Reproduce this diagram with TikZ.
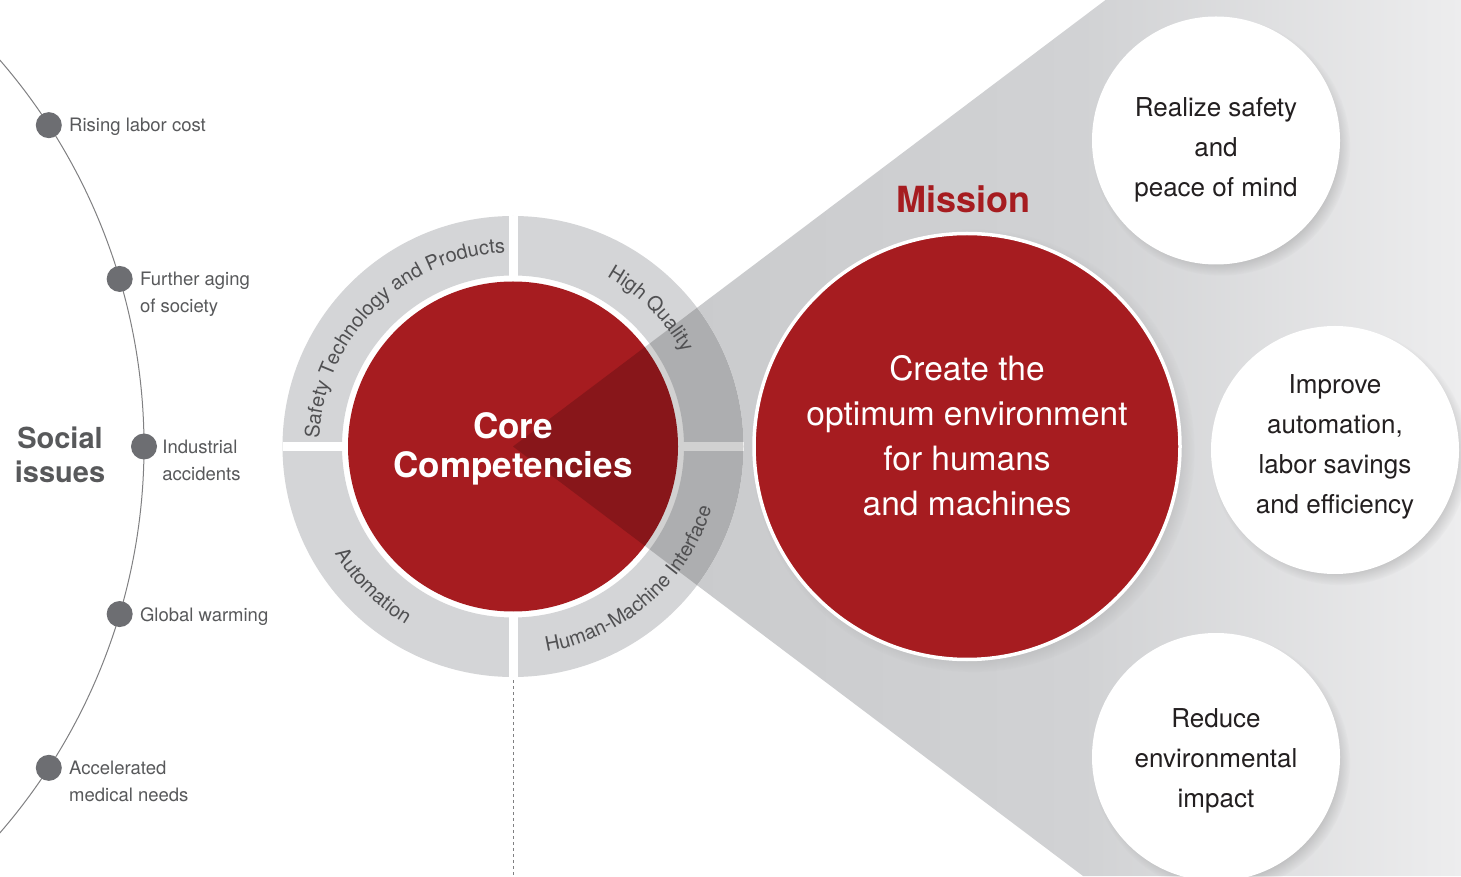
\documentclass[tikz,border=0pt]{standalone}
\usepackage{fontspec}
\setmainfont{TeX Gyre Heros}
\usetikzlibrary{decorations.text,shadows,fadings}

\definecolor{corered}{RGB}{166,28,32}
\definecolor{ringgray}{RGB}{212,213,215}
\definecolor{ringtext}{RGB}{80,80,82}
\definecolor{issuegray}{RGB}{88,89,91}
\definecolor{dotgray}{RGB}{109,110,114}
\definecolor{arcgray}{RGB}{128,128,130}
\definecolor{goalink}{RGB}{35,31,32}
\definecolor{beamleft}{RGB}{199,200,202}
\definecolor{beammid}{RGB}{209,210,212}
\definecolor{beamright}{RGB}{237,237,238}

\pgfdeclarehorizontalshading{beam}{100bp}{color(0bp)=(beamleft); color(25bp)=(beamleft); color(55bp)=(beammid); color(75bp)=(beamright); color(100bp)=(beamright)}

\newcommand{\ringfont}{\fontsize{20}{20}\selectfont}

\begin{document}
\begin{tikzpicture}[
    x=1pt, y=1pt,
    issuedot/.style={circle, fill=dotgray, minimum size=26pt, inner sep=0pt},
    issuelabel/.style={anchor=north west, inner sep=0pt, align=left, text=issuegray,
        font=\fontsize{18.5}{27}\selectfont},
    corecircle/.style={circle, fill=corered, minimum size=330pt, inner sep=0pt},
    coretext/.style={align=center, text=white, font=\bfseries\fontsize{35}{39}\selectfont},
    ringlabel/.style={decorate, decoration={text along path, text align=center,
        text color=ringtext, text={|\ringfont|#1}}},
    missioncircle/.style={circle, fill=corered, draw=white, line width=3.5pt,
        minimum size=426pt, inner sep=0pt,
        circular drop shadow={shadow xshift=6pt, shadow yshift=-4pt, shadow scale=1.04, opacity=.45}},
    missiontext/.style={align=center, text=white, font=\fontsize{33.5}{45}\selectfont},
    goal/.style={circle, fill=white, minimum size=248pt, inner sep=0pt,
        circular drop shadow={shadow xshift=5pt, shadow yshift=-6pt, shadow scale=1.04, opacity=.45}},
    goaltext/.style={align=center, text=goalink, font=\fontsize{26}{40}\selectfont}]

    \useasboundingbox (0,0) rectangle (1461,876);
    \clip (0,0) rectangle (1461,876);
    \fill[white] (0,0) rectangle (1461,876);

    \coordinate (hub) at (513,429.5);
    \coordinate (issuehub) at (-446,429.5);

    % beam
    \shade[shading=beam] (hub) -- (1105.5,876) -- (1461,876) -- (1461,0) -- (1083,0) -- cycle;

    % social issues
    \draw[arcgray, line width=1pt] ([shift={(50:590)}]issuehub) arc[start angle=50, end angle=-50, radius=590];
    \foreach \ang/\name in {33/labor, 16.5/aging, 0/accidents, -16.5/warming, -33/medical}
        \node[issuedot] (\name) at ([shift={(\ang:590)}]issuehub) {};

    \node[issuelabel] (laborlabel) at ([xshift=7,yshift=7]labor.east) {Rising labor cost};
    \node[issuelabel] (aginglabel) at ([xshift=7,yshift=7]aging.east) {Further aging\\of society};
    \node[issuelabel] (accidentslabel) at ([xshift=5,yshift=7]accidents.east) {Industrial\\accidents};
    \node[issuelabel] (warminglabel) at ([xshift=7,yshift=7]warming.east) {Global warming};
    \node[issuelabel] (medicallabel) at ([xshift=7,yshift=7]medical.east) {Accelerated\\medical needs};

    \node[align=center, text=issuegray, font=\bfseries\fontsize{29}{34}\selectfont] (social) at (60,421.5) {Social\\issues};

    % core competencies ring
    \fill[white] (hub) circle (230.5);
    \fill[ringgray, even odd rule] (hub) circle (230.5) circle (171);
    \draw[white, line width=9pt] ([xshift=-230.5]hub) -- ([xshift=230.5]hub);
    \draw[white, line width=9pt] ([yshift=-230.5]hub) -- ([yshift=230.5]hub);
    \node[corecircle] (core) at (hub) {};

    \begin{scope}
        \clip (hub) circle (230.5);
        \fill[black, opacity=.18] (hub) -- (1105.5,876) -- (1083,0) -- cycle;
    \end{scope}

    \node[coretext] (coretitle) at ([yshift=-2]core.center) {Core\\Competencies};

    \path[ringlabel={Safety Technology and Products}] ([shift={(180:194)}]hub) arc[start angle=180, end angle=90, radius=194];
    \path[ringlabel={High Quality}] ([shift={(75:194)}]hub) arc[start angle=75, end angle=15, radius=194];
    \path[ringlabel={Automation}] ([shift={(195:208)}]hub) arc[start angle=195, end angle=255, radius=208];
    \path[ringlabel={Human-Machine Interface}] ([shift={(266:208)}]hub) arc[start angle=266, end angle=356, radius=208];

    \coordinate (ringbottom) at ([yshift=-233.5]hub);
    \coordinate (dashend) at (513,0);
    \draw[arcgray, line width=1pt, dash pattern=on 3pt off 3pt] (ringbottom) -- (dashend);

    % mission
    \node[text=corered, anchor=base, font=\bfseries\fontsize{36}{36}\selectfont] (missiontitle) at (963.5,663) {Mission};
    \node[missioncircle] (mission) at (967,429.5) {};
    \node[missiontext] (missionline) at (967,440.5) {Create the\\optimum environment\\for humans\\and machines};

    % goals
    \node[goal] (safety) at (1216,735.5) {};
    \node[goaltext] (safetytext) at ([yshift=-9.5]safety.center) {Realize safety\\and\\peace of mind};
    \node[goal] (efficiency) at (1335,426) {};
    \node[goaltext] (efficiencytext) at ([yshift=3]efficiency.center) {Improve\\automation,\\labor savings\\and efficiency};
    \node[goal] (environment) at (1216,119) {};
    \node[goaltext] (environmenttext) at ([yshift=-4]environment.center) {Reduce\\environmental\\impact};

\end{tikzpicture}
\end{document}
